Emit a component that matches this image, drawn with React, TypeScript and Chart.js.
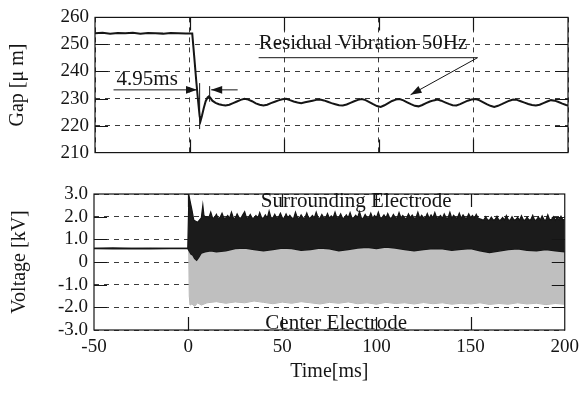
import React, { useEffect, useRef } from "react";
import { Chart, registerables } from "chart.js";

Chart.register(...registerables);

// ---------- data ----------
const timeMin = -50;
const timeMax = 200;
const timeStep = 50;

const gapMin = 210;
const gapMax = 260;
const gapStep = 10;

const voltMin = -3;
const voltMax = 3;
const voltStep = 1;

// Gap [um] vs time [ms]
const gapTime = [
  -50, -46, -42, -38, -34, -30, -26, -22, -18, -14, -10, -6, -2, 0.5,
  1.4, 2.5, 3.5, 4.5, 5.3, 5.8, 6.5, 7.5, 8.5, 9.5, 10.2, 11, 12, 13.7, 15.5, 17.3, 19, 21, 23, 25, 27, 29,
  31, 33, 35, 37, 39, 41, 43, 45, 47, 49, 51, 53, 55, 57, 59, 61, 63, 65, 67, 69,
  71, 73, 75, 77, 79, 81, 83, 85, 87, 89, 91, 93, 95, 97, 99, 101, 103, 105, 107, 109,
  111, 113, 115, 117, 119, 121, 123, 125, 127, 129, 131, 133, 135, 137, 139, 141, 143, 145, 147, 149,
  151, 153, 155, 157, 159, 161, 163, 165, 167, 169, 171, 173, 175, 177, 179, 181, 183, 185, 187, 189,
  191, 193, 195, 197, 199, 200,
];
const gapValue = [
  254.1, 254.3, 254.0, 254.2, 254.1, 254.3, 254.0, 254.2, 254.1, 254.0, 254.2, 254.1, 254.0, 254.0,
  254.0, 245, 236.6, 229, 223.5, 221.7, 223.5, 226.5, 229.0, 230.4, 230.8, 230.2, 229.2, 228.4, 227.9, 227.6, 227.4, 227.7, 228.3, 228.9, 229.5, 229.9,
  229.6, 229.0, 228.2, 227.7, 227.4, 227.7, 228.3, 228.8, 229.3, 229.7, 229.9, 229.4, 228.9, 228.5, 228.3, 228.6, 228.9, 229.2, 229.5, 229.6,
  229.3, 228.8, 228.3, 227.9, 227.5, 227.4, 227.8, 228.4, 229.0, 229.5, 229.8, 229.4, 228.7, 227.9, 227.2, 226.9, 227.5, 228.3, 229.1, 229.6,
  229.8, 229.3, 228.6, 227.9, 227.3, 227.1, 227.6, 228.3, 228.9, 229.3, 229.6, 229.2, 228.6, 228.0, 227.5, 227.4, 227.9, 228.6, 229.2, 229.6,
  229.8, 229.4, 228.7, 227.9, 227.3, 226.9, 227.3, 227.9, 228.6, 229.2, 229.6, 229.5, 229.0, 228.5, 228.0, 227.6, 227.4, 227.7, 228.3, 228.9,
  229.4, 229.2, 228.7, 228.1, 227.6, 227.4,
];

// Surrounding electrode voltage [kV]: upper envelope of the dense trace
const surroundUpperTime = [
  -50, -40, -30, -20, -10, -0.2, 0.4, 1, 2, 3, 4, 5, 6, 7, 7.8, 8.4, 9,
  10, 11, 12, 13, 14, 15, 16, 17, 18, 19,
  20, 21, 22, 23, 24, 25, 26, 27, 28, 29,
  30, 31, 32, 33, 34, 35, 36, 37, 38, 39,
  40, 41, 42, 43, 44, 45, 46, 47, 48, 49,
  50, 51, 52, 53, 54, 55, 56, 57, 58, 59,
  60, 61, 62, 63, 64, 65, 66, 67, 68, 69,
  70, 71, 72, 73, 74, 75, 76, 77, 78, 79,
  80, 81, 82, 83, 84, 85, 86, 87, 88, 89,
  90, 91, 92, 93, 94, 95, 96, 97, 98, 99,
  100, 101, 102, 103, 104, 105, 106, 107, 108, 109,
  110, 111, 112, 113, 114, 115, 116, 117, 118, 119,
  120, 121, 122, 123, 124, 125, 126, 127, 128, 129,
  130, 131, 132, 133, 134, 135, 136, 137, 138, 139,
  140, 141, 142, 143, 144, 145, 146, 147, 148, 149,
  150, 151, 152, 153, 154, 155, 156, 157, 158, 159,
  160, 161, 162, 163, 164, 165, 166, 167, 168, 169,
  170, 171, 172, 173, 174, 175, 176, 177, 178, 179,
  180, 181, 182, 183, 184, 185, 186, 187, 188, 189,
  190, 191, 192, 193, 194, 195, 196, 197, 198, 199,
  200,
];
const surroundUpperValue = [
  0.6, 0.62, 0.6, 0.61, 0.6, 0.6, 2.95, 2.7, 2.3, 1.85, 1.8, 1.75, 1.85, 1.95, 2.5, 2.05, 2.0,
  2.0, 1.95, 2.2, 1.93, 1.96, 2.1, 1.92, 1.97, 2.15, 1.94,
  1.95, 2.05, 1.93, 2.2, 1.95, 1.92, 2.12, 1.96, 1.93, 2.08,
  2.22, 1.94, 1.96, 2.1, 1.93, 1.95, 2.05, 1.92, 2.18, 1.95,
  1.94, 2.08, 1.93, 2.25, 1.96, 1.94, 2.1, 1.93, 1.97, 2.15,
  1.95, 1.93, 2.12, 1.94, 2.06, 1.95, 1.92, 2.2, 1.96, 1.93,
  2.08, 1.95, 1.94, 2.16, 1.93, 1.96, 2.05, 1.94, 2.2, 1.95,
  1.93, 2.1, 1.96, 1.94, 2.14, 1.93, 2.03, 1.95, 2.2, 1.94,
  1.96, 2.12, 1.93, 1.95, 2.08, 1.94, 2.18, 1.93, 1.96, 2.06,
  1.95, 2.22, 1.94, 1.93, 2.1, 1.96, 1.94, 2.15, 1.93, 2.05,
  1.95, 2.2, 1.94, 1.96, 2.08, 1.93, 2.14, 1.95, 1.94, 2.1,
  1.96, 1.93, 2.18, 1.95, 2.05, 1.94, 1.93, 2.12, 1.96, 2.07,
  1.94, 1.95, 2.2, 1.93, 2.06, 1.96, 1.94, 2.14, 1.93, 2.08,
  1.95, 2.18, 1.94, 1.96, 2.05, 1.93, 2.12, 1.95, 1.94, 2.2,
  1.93, 2.06, 1.96, 1.94, 2.15, 1.93, 2.08, 1.95, 1.94, 2.12,
  1.96, 2.05, 1.93, 2.1, 1.94, 1.9, 1.87, 1.85, 2.0, 1.86,
  1.84, 1.98, 1.85, 1.87, 2.02, 1.84, 1.86, 1.96, 1.85, 2.05,
  1.86, 1.84, 2.0, 1.85, 1.87, 1.97, 1.84, 2.04, 1.86, 1.85,
  1.98, 1.85, 1.87, 2.06, 1.84, 1.86, 1.99, 1.85, 2.03, 1.86,
  1.85, 2.08, 1.86, 1.88, 2.0, 1.85, 1.96, 1.87, 2.02, 1.86,
  1.88,
];

// Surrounding electrode: lower envelope
const surroundLowerTime = [
  -50, -40, -30, -20, -10, -0.2, 0.5, 1.5, 2.5, 3.5, 4.5, 5.5, 7, 9, 12,
  15, 20, 25, 30, 35, 40, 45, 50, 55, 60, 65, 70, 75, 80, 85, 90, 95, 100,
  105, 110, 115, 120, 125, 130, 135, 140, 145, 150, 155, 160, 165, 170, 175, 180, 185, 190, 195, 200,
];
const surroundLowerValue = [
  0.6, 0.58, 0.6, 0.59, 0.6, 0.6, 0.5, 0.35, 0.3, 0.15, 0.08, 0.2, 0.4, 0.45, 0.5,
  0.45, 0.5, 0.6, 0.62, 0.55, 0.5, 0.55, 0.62, 0.6, 0.52, 0.55, 0.62, 0.58, 0.5, 0.55, 0.62, 0.65, 0.6,
  0.66, 0.62, 0.55, 0.5, 0.55, 0.6, 0.58, 0.52, 0.56, 0.6, 0.5, 0.42, 0.48, 0.55, 0.58, 0.52, 0.5, 0.55, 0.5, 0.45,
];

// Center electrode voltage [kV]: upper and lower envelope of the dense trace
const centerUpperTime = [0.3, 1, 200];
const centerUpperValue = [0.6, 0.7, 0.7];

const centerLowerTime = [
  0.3, 0.6, 1, 2, 3.5, 5, 7, 10, 15, 20, 25, 30, 35, 40, 45, 50, 55, 60, 65, 70, 75, 80,
  85, 90, 95, 100, 105, 110, 115, 120, 125, 130, 135, 140, 145, 150, 155, 160, 165, 170,
  175, 180, 185, 190, 195, 200,
];
const centerLowerValue = [
  0.6, -1.5, -1.9, -1.85, -1.95, -1.8, -1.9, -1.8, -1.75, -1.82, -1.76, -1.8, -1.72, -1.78, -1.84, -1.77, -1.82, -1.75, -1.8, -1.85, -1.78, -1.82,
  -1.76, -1.84, -1.8, -1.86, -1.78, -1.83, -1.8, -1.85, -1.79, -1.84, -1.8, -1.86, -1.82, -1.85, -1.8, -1.87, -1.83, -1.86,
  -1.8, -1.85, -1.82, -1.88, -1.83, -1.86,
];

// ---------- styling ----------
const FONT = "'Liberation Serif', 'Times New Roman', serif";
const FS = 19;
const NOTE_FS = 21;
const INK = "#151515";

const pts = (xs: number[], ys: number[]) => xs.map((x, i) => ({ x, y: ys[i] }));

function arrow(ctx: CanvasRenderingContext2D, x1: number, y1: number, x2: number, y2: number, head = 11, half = 3.8) {
  ctx.beginPath();
  ctx.moveTo(x1, y1);
  ctx.lineTo(x2, y2);
  ctx.stroke();
  const ang = Math.atan2(y2 - y1, x2 - x1);
  ctx.beginPath();
  ctx.moveTo(x2, y2);
  ctx.lineTo(x2 - head * Math.cos(ang) + half * Math.sin(ang), y2 - head * Math.sin(ang) - half * Math.cos(ang));
  ctx.lineTo(x2 - head * Math.cos(ang) - half * Math.sin(ang), y2 - head * Math.sin(ang) + half * Math.cos(ang));
  ctx.closePath();
  ctx.fill();
}

const frameTicks = {
  id: "frameTicks",
  afterDatasetsDraw(chart: any) {
    const { ctx, chartArea: a, scales } = chart;
    const TL = 13;
    ctx.save();
    ctx.strokeStyle = INK;
    ctx.lineWidth = 1.2;
    ctx.setLineDash([]);
    ctx.strokeRect(a.left, a.top, a.right - a.left, a.bottom - a.top);
    const ys = scales.y;
    ys.ticks.forEach((t: any) => {
      if (t.value <= ys.min || t.value >= ys.max) return;
      const p = Math.round(ys.getPixelForValue(t.value)) + 0.5;
      ctx.beginPath();
      ctx.moveTo(a.left, p);
      ctx.lineTo(a.left + TL, p);
      ctx.moveTo(a.right - TL, p);
      ctx.lineTo(a.right, p);
      ctx.stroke();
    });
    const xs = scales.x;
    xs.ticks.forEach((t: any) => {
      if (t.value <= xs.min || t.value >= xs.max) return;
      const p = Math.round(xs.getPixelForValue(t.value)) + 0.5;
      ctx.beginPath();
      ctx.moveTo(p, a.top);
      ctx.lineTo(p, a.top + TL);
      ctx.moveTo(p, a.bottom - TL);
      ctx.lineTo(p, a.bottom);
      ctx.stroke();
    });
    ctx.restore();
  },
};

const gapNotes = {
  id: "gapNotes",
  afterDatasetsDraw(chart: any) {
    const { ctx, scales } = chart;
    const X = (v: number) => scales.x.getPixelForValue(v);
    const Y = (v: number) => scales.y.getPixelForValue(v);
    ctx.save();
    ctx.fillStyle = INK;
    ctx.strokeStyle = INK;
    ctx.lineWidth = 1;
    ctx.font = `${NOTE_FS}px ${FONT}`;
    ctx.textBaseline = "alphabetic";
    ctx.textAlign = "left";
    // 4.95ms measurement
    ctx.fillText("4.95ms", X(-38.6), Y(235));
    arrow(ctx, X(-40.2), Y(233.2), X(3.9), Y(233.2));
    arrow(ctx, X(25.4), Y(233.2), X(11.4), Y(233.2));
    ctx.beginPath();
    ctx.moveTo(X(5.3), Y(235.7));
    ctx.lineTo(X(5.3), Y(218.7));
    ctx.moveTo(X(10.6), Y(234.6));
    ctx.lineTo(X(10.6), Y(228.8));
    ctx.stroke();
    // Residual vibration
    ctx.fillText("Residual Vibration 50Hz", X(36.5), Y(248.4));
    ctx.beginPath();
    ctx.moveTo(X(36.5), Y(245.1));
    ctx.lineTo(X(152.2), Y(245.1));
    ctx.stroke();
    arrow(ctx, X(152.2), Y(245.1), X(116.8), Y(231.4));
    ctx.restore();
  },
};

const voltNotes = {
  id: "voltNotes",
  afterDatasetsDraw(chart: any) {
    const { ctx, scales } = chart;
    const X = (v: number) => scales.x.getPixelForValue(v);
    const Y = (v: number) => scales.y.getPixelForValue(v);
    ctx.save();
    ctx.fillStyle = INK;
    ctx.font = `${NOTE_FS}px ${FONT}`;
    ctx.textBaseline = "alphabetic";
    ctx.textAlign = "left";
    ctx.fillText("Surrounding Electrode", X(38.6), Y(2.44));
    ctx.fillText("Center Electrode", X(41), Y(-2.95));
    ctx.restore();
  },
};

const tickFont = { family: FONT, size: FS };
const titleFont = { family: FONT, size: 20 };

function GapChart() {
  const ref = useRef<HTMLCanvasElement>(null);
  useEffect(() => {
    const chart = new Chart(ref.current!, {
      type: "line",
      data: {
        datasets: [
          {
            label: "Gap",
            data: pts(gapTime, gapValue),
            borderColor: INK,
            borderWidth: 2,
            pointRadius: 0,
            fill: false,
            tension: 0,
          },
        ],
      },
      options: {
        responsive: false,
        animation: false,
        devicePixelRatio: 1,
        layout: { padding: { left: 0, right: 17, top: 16, bottom: 16 } },
        plugins: { legend: { display: false }, tooltip: { enabled: false } },
        scales: {
          x: {
            type: "linear",
            min: timeMin,
            max: timeMax,
            ticks: { display: false, stepSize: timeStep },
            grid: { color: "#3a3a3a", lineWidth: 1, drawTicks: false },
            border: { display: false, dash: [5, 5] },
            afterFit: (s: any) => {
              s.height = 0;
            },
          },
          y: {
            min: gapMin,
            max: gapMax,
            ticks: { stepSize: gapStep, autoSkip: false, color: INK, font: tickFont, padding: 6 },
            grid: { color: "#3a3a3a", lineWidth: 1, drawTicks: false },
            border: { display: false, dash: [5, 5] },
            title: { display: true, text: "Gap [μ m]", color: INK, font: titleFont, padding: { top: 6, bottom: 0 } },
            afterFit: (s: any) => {
              s.width = 95;
            },
          },
        },
      },
      plugins: [frameTicks, gapNotes],
    });
    return () => chart.destroy();
  }, []);
  return <canvas ref={ref} width={585} height={170} />;
}

function VoltChart() {
  const ref = useRef<HTMLCanvasElement>(null);
  useEffect(() => {
    const chart = new Chart(ref.current!, {
      type: "line",
      data: {
        datasets: [
          {
            label: "Surrounding Electrode",
            data: pts(surroundUpperTime, surroundUpperValue),
            borderColor: INK,
            backgroundColor: "#1b1b1b",
            borderWidth: 1.2,
            pointRadius: 0,
            fill: "+1",
            tension: 0,
          },
          {
            label: "Surrounding Electrode (lower)",
            data: pts(surroundLowerTime, surroundLowerValue),
            borderColor: INK,
            borderWidth: 1.5,
            pointRadius: 0,
            fill: false,
            tension: 0,
          },
          {
            label: "Center Electrode",
            data: pts(centerUpperTime, centerUpperValue),
            borderColor: "rgba(0,0,0,0)",
            backgroundColor: "#bfbfbf",
            borderWidth: 0,
            pointRadius: 0,
            fill: "+1",
            tension: 0,
          },
          {
            label: "Center Electrode (lower)",
            data: pts(centerLowerTime, centerLowerValue),
            borderColor: "#b3b3b3",
            borderWidth: 1,
            pointRadius: 0,
            fill: false,
            tension: 0,
          },
        ],
      },
      options: {
        responsive: false,
        animation: false,
        devicePixelRatio: 1,
        layout: { padding: { left: 0, right: 18, top: 24, bottom: 0 } },
        plugins: { legend: { display: false }, tooltip: { enabled: false } },
        scales: {
          x: {
            type: "linear",
            min: timeMin,
            max: timeMax,
            ticks: { stepSize: timeStep, autoSkip: false, color: INK, font: tickFont, padding: 6, maxRotation: 0 },
            grid: { display: false, drawTicks: false },
            border: { display: false },
            title: { display: true, text: "Time[ms]", color: INK, font: titleFont, padding: { top: 4, bottom: 13 } },
            afterFit: (s: any) => {
              s.height = 67;
            },
          },
          y: {
            min: voltMin,
            max: voltMax,
            ticks: {
              stepSize: voltStep,
              autoSkip: false,
              color: INK,
              font: tickFont,
              padding: 6,
              callback: (v: any) => (Number(v) === 0 ? "0" : Number(v).toFixed(1)),
            },
            grid: { color: "#3a3a3a", lineWidth: 1, drawTicks: false },
            border: { display: false, dash: [5, 5] },
            title: { display: true, text: "Voltage [kV]", color: INK, font: titleFont, padding: { top: 8, bottom: 0 } },
            afterFit: (s: any) => {
              s.width = 94;
            },
          },
        },
      },
      plugins: [frameTicks, voltNotes],
    });
    return () => chart.destroy();
  }, []);
  return <canvas ref={ref} width={585} height={227} />;
}

export default function App() {
  return (
    <div style={{ position: "fixed", left: 0, top: 0, width: 585, height: 397, background: "#fff", overflow: "hidden" }}>
      <div style={{ position: "absolute", left: 0, top: 0, width: 585, height: 170 }}>
        <GapChart />
      </div>
      <div style={{ position: "absolute", left: 0, top: 170, width: 585, height: 227 }}>
        <VoltChart />
      </div>
    </div>
  );
}
